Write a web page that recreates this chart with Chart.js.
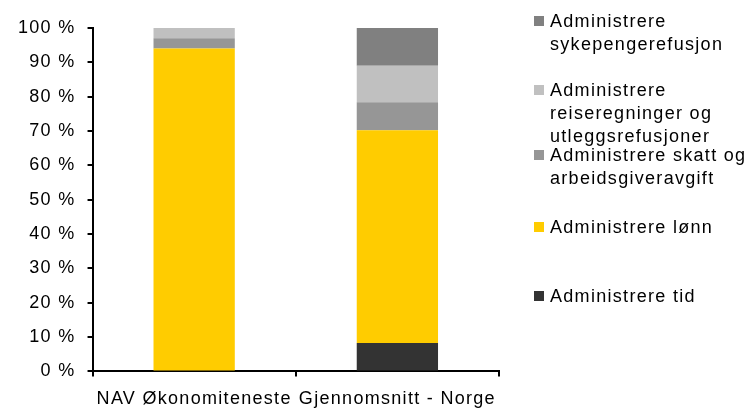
<!DOCTYPE html>
<html>
<head>
<meta charset="utf-8">
<script src="https://cdn.jsdelivr.net/npm/chart.js@4"></script>
<style>
  body { margin: 0; background: #fff; }
  #wrap { position: relative; width: 749px; height: 409px; }
  #legend { position: absolute; left: 534px; top: 0; width: 215px; font-family: "Liberation Sans", Arial, sans-serif; font-size: 18px; letter-spacing: 1.3px; color: #000; line-height: 23px; }
  .item { position: absolute; left: 0; width: 215px; }
  .box { position: absolute; left: 0; top: 6px; width: 10px; height: 10px; }
  .txt { position: absolute; left: 16px; width: 200px; }
</style>
</head>
<body>
<div id="wrap">
  <canvas id="chart"></canvas>
  <div id="legend"></div>
</div>
<script>
const categories = ['NAV Økonomiteneste', 'Gjennomsnitt - Norge'];

const tid = [0, 8.3];
const lonn = [94, 61.9];
const skatt = [3, 8.2];
const reise = [3, 10.6];
const syke = [0, 11];

const seriesNames = [
  'Administrere tid',
  'Administrere lønn',
  'Administrere skatt og arbeidsgiveravgift',
  'Administrere reiseregninger og utleggsrefusjoner',
  'Administrere sykepengerefusjon'
];
const seriesColors = ['#333333', '#FFCC00', '#969696', '#C0C0C0', '#808080'];
const seriesData = [tid, lonn, skatt, reise, syke];

const yTicks = [0, 10, 20, 30, 40, 50, 60, 70, 80, 90, 100];

// legend top positions (reversed order, top item first)
const legendTops = [10, 79, 144, 216, 285];

const spacing = {
  id: 'spacing',
  beforeLayout(chart) { chart.ctx.letterSpacing = '1.3px'; },
  beforeDraw(chart) { chart.ctx.letterSpacing = '1.3px'; }
};

const font = { family: '"Liberation Sans", Arial, sans-serif', size: 18 };

new Chart(document.getElementById('chart'), {
  type: 'bar',
  data: {
    labels: categories,
    datasets: seriesData.map((d, i) => ({
      label: seriesNames[i],
      data: d,
      backgroundColor: seriesColors[i],
      borderWidth: 0,
      categoryPercentage: 1,
      barPercentage: 0.4
    }))
  },
  options: {
    responsive: true,
    maintainAspectRatio: false,
    animation: false,
    layout: { padding: { top: 28, right: 250, left: 6, bottom: -13 } },
    plugins: { legend: { display: false }, tooltip: { enabled: false } },
    scales: {
      x: {
        stacked: true,
        grid: { drawOnChartArea: false, drawTicks: true, tickLength: 5, color: '#000', lineWidth: 2 },
        border: { color: '#000', width: 2 },
        ticks: { color: '#000', font: font, padding: 12, maxRotation: 0, autoSkip: false }
      },
      y: {
        stacked: true,
        min: 0,
        max: 100,
        afterBuildTicks(axis) { axis.ticks = yTicks.map(v => ({ value: v })); },
        grid: { drawOnChartArea: false, drawTicks: true, tickLength: 5, color: '#000', lineWidth: 2 },
        border: { color: '#000', width: 2 },
        ticks: { color: '#000', font: font, padding: 12, callback: v => v + ' %' }
      }
    }
  },
  plugins: [spacing]
});

const legend = document.getElementById('legend');
for (let k = 0; k < seriesNames.length; k++) {
  const i = seriesNames.length - 1 - k;
  const item = document.createElement('div');
  item.className = 'item';
  item.style.top = legendTops[k] + 'px';
  item.innerHTML = '<div class="box" style="background:' + seriesColors[i] + '"></div><div class="txt">' + seriesNames[i] + '</div>';
  legend.appendChild(item);
}
</script>
</body>
</html>
